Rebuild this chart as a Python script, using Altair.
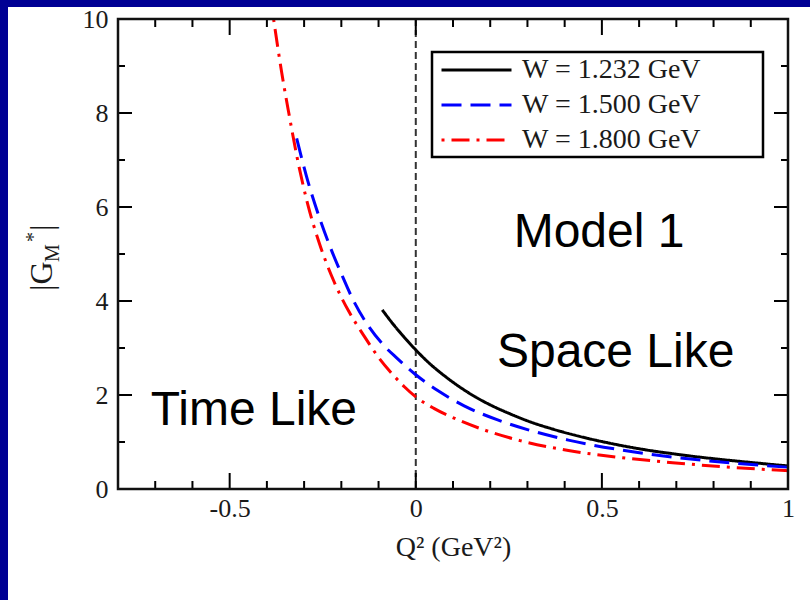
import altair as alt
import pandas as pd

# ---------------- data ----------------
series_names = ["W = 1.232 GeV", "W = 1.500 GeV", "W = 1.800 GeV"]

black_x = [-0.09, -0.06, -0.03, 0.0, 0.04, 0.08, 0.12, 0.16, 0.20, 0.25, 0.30, 0.37, 0.45, 0.53, 0.62, 0.71, 0.80, 0.90, 1.0]
black_y = [3.81, 3.50, 3.22, 2.96, 2.65, 2.39, 2.16, 1.96, 1.79, 1.61, 1.45, 1.27, 1.10, 0.96, 0.83, 0.73, 0.645, 0.565, 0.49]

blue_x = [-0.32, -0.29, -0.26, -0.23, -0.20, -0.17, -0.13, -0.09, -0.05, 0.0, 0.06, 0.13, 0.22, 0.30, 0.41, 0.55, 0.70, 0.85, 1.0]
blue_y = [7.46, 6.55, 5.80, 5.15, 4.58, 4.05, 3.50, 3.09, 2.78, 2.43, 2.09, 1.77, 1.47, 1.264, 1.04, 0.832, 0.67, 0.553, 0.464]

red_x = [-0.382, -0.36, -0.34, -0.32, -0.29, -0.26, -0.22, -0.18, -0.14, -0.10, -0.06, -0.03, 0.0, 0.05, 0.12, 0.19, 0.28, 0.41, 0.55, 0.69, 0.83, 1.0]
red_y = [10.0, 8.85, 7.95, 7.10, 6.05, 5.25, 4.42, 3.78, 3.27, 2.80, 2.42, 2.17, 1.96, 1.71, 1.45, 1.24, 1.03, 0.82, 0.67, 0.56, 0.47, 0.39]

x_major_ticks = [-0.5, 0.0, 0.5]
x_minor_ticks = [-0.7, -0.6, -0.4, -0.3, -0.2, -0.1, 0.1, 0.2, 0.3, 0.4, 0.6, 0.7, 0.8, 0.9]
y_major_ticks = [2, 4, 6, 8]
y_minor_ticks = [1, 3, 5, 7, 9]
x_tick_labels = [-0.5, 0, 0.5, 1]
y_tick_labels = [0, 2, 4, 6, 8, 10]

note_text = ["Model 1", "Space Like", "Time Like"]
note_x = [0.263, 0.218, -0.712]
note_y = [5.15, 2.6, 1.36]

# ---------------- layout ----------------
W, H = 670, 470
X0, Y0 = 118, 19
SERIF = "Liberation Serif"
SANS = "Liberation Sans"

xs = alt.Scale(domain=[-0.8, 1.0], nice=False, zero=False)
ys = alt.Scale(domain=[0, 10], nice=False, zero=False)

x_axis = alt.Axis(values=x_tick_labels, labelExpr="'' + datum.value", ticks=False, domain=False,
                  grid=False, labelFont=SERIF, labelFontSize=26, labelColor="#1a1a1a",
                  labelPadding=6, labelFlush=False, labelOverlap=False, zindex=2,
                  title="Q² (GeV²)", titleFont=SERIF, titleFontSize=28, titleFontWeight="normal",
                  titleColor="#1a1a1a", titlePadding=12)
y_axis = alt.Axis(values=y_tick_labels, ticks=False, domain=False, grid=False, zindex=2,
                  labelFont=SERIF, labelFontSize=26, labelColor="#1a1a1a",
                  labelPadding=10, labelFlush=False, labelOverlap=False, title=None)


def X(field="x"):
    return alt.X(f"{field}:Q", scale=xs, axis=x_axis)


def Y(field="y"):
    return alt.Y(f"{field}:Q", scale=ys, axis=y_axis)


rows = []
for name, xv, yv in zip(series_names, [black_x, blue_x, red_x], [black_y, blue_y, red_y]):
    for a, b in zip(xv, yv):
        rows.append({"x": a, "y": b, "series": name})
curves_df = pd.DataFrame(rows)

one = pd.DataFrame({"a": [0]})

panel = alt.Chart(one).mark_rect(fill="white").encode(
    x=alt.value(8 - X0), x2=alt.value(810 - X0),
    y=alt.value(7 - Y0), y2=alt.value(600 - Y0))

curves = alt.Chart(curves_df).mark_line(strokeWidth=3, clip=True, interpolate="monotone").encode(
    x=X(), y=Y(),
    color=alt.Color("series:N", scale=alt.Scale(domain=series_names, range=["black", "#0000ff", "#ff0000"]),
                    legend=alt.Legend(title=None)),
    strokeDash=alt.StrokeDash("series:N", scale=alt.Scale(domain=series_names,
                              range=[[1, 0], [20, 9], [3, 7, 18, 7]]), legend=alt.Legend(title=None)),
    order=alt.Order("x:Q"),
)

zero_line = alt.Chart(pd.DataFrame({"x": [0.0]})).mark_rule(color="#333333", strokeWidth=2, strokeDash=[7, 4]).encode(
    x=X(), y=alt.value(0), y2=alt.value(H))


def xticks(vals, length):
    d = pd.DataFrame({"x": vals})
    b = alt.Chart(d).mark_rule(color="black", strokeWidth=2).encode(
        x=X(), y=alt.value(H), y2=alt.value(H - length))
    t = alt.Chart(d).mark_rule(color="black", strokeWidth=2).encode(
        x=X(), y=alt.value(0), y2=alt.value(length))
    return b + t


def yticks(vals, length):
    d = pd.DataFrame({"y": vals})
    l = alt.Chart(d).mark_rule(color="black", strokeWidth=2).encode(
        y=Y(), x=alt.value(0), x2=alt.value(length))
    r = alt.Chart(d).mark_rule(color="black", strokeWidth=2).encode(
        y=Y(), x=alt.value(W), x2=alt.value(W - length))
    return l + r


frame = alt.Chart(one).mark_rect(fill=None, stroke="#111111", strokeWidth=2.5).encode(
    x=alt.value(0), x2=alt.value(W), y=alt.value(0), y2=alt.value(H))

legend_box = alt.Chart(one).mark_rect(fill="white", stroke="black", strokeWidth=2.5).encode(
    x=alt.value(432 - X0), x2=alt.value(763 - X0), y=alt.value(52 - Y0), y2=alt.value(157 - Y0))

notes = alt.Chart(pd.DataFrame({"t": note_text, "x": note_x, "y": note_y})).mark_text(
    align="left", baseline="alphabetic", font=SANS, fontSize=48, color="black").encode(
    x=X(), y=Y(), text="t:N")


def ytitle_piece(txt, size, bx, sy):
    return alt.Chart(one).mark_text(text=txt, angle=270, align="left", baseline="alphabetic",
                                    font=SERIF, fontSize=size, color="#1a1a1a").encode(
        x=alt.value(bx - X0), y=alt.value(sy - Y0))


ytitle = (ytitle_piece("|G", 32, 52, 291) + ytitle_piece("M", 20, 59, 262)
          + ytitle_piece("*", 20, 40, 242) + ytitle_piece("|", 32, 52, 231))

chart = alt.layer(
    panel, zero_line, curves,
    xticks(x_major_ticks, 16), xticks(x_minor_ticks, 8),
    yticks(y_major_ticks, 14), yticks(y_minor_ticks, 7),
    frame, legend_box, notes, ytitle,
).properties(
    width=W, height=H,
    autosize=alt.AutoSizeParams(type="none"),
    padding={"left": X0, "top": Y0, "right": 810 - X0 - W, "bottom": 600 - Y0 - H},
    background="#000094",
).configure_view(stroke=None).configure_legend(
    orient="none", legendX=440 - X0, legendY=56 - Y0, padding=0,
    symbolType="stroke", symbolSize=4900, symbolStrokeWidth=3, clipHeight=28,
    labelFont=SERIF, labelFontSize=28, labelColor="#1a1a1a", labelOffset=9, labelLimit=400,
    rowPadding=7, symbolStrokeColor="black",
)

chart.save("out.html", embed_options={"renderer": "svg", "actions": False})
